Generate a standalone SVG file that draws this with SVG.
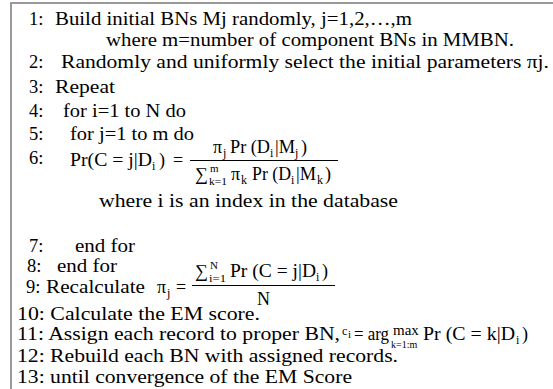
<svg xmlns="http://www.w3.org/2000/svg" width="553" height="389" viewBox="0 0 553 389">
<style>
.t{font-family:"Liberation Serif","Times New Roman",serif;font-size:18.5px;fill:#000}
.b{font-family:"Liberation Serif","Times New Roman",serif;font-size:19px;fill:#000}
.m{font-family:"Liberation Serif","Times New Roman",serif;font-size:18px;fill:#000}
.s{font-family:"Liberation Serif","Times New Roman",serif;font-size:12px;fill:#000}
.ss{font-family:"Liberation Serif","Times New Roman",serif;font-size:11px;fill:#000}
.bar{stroke:#000;stroke-width:1}
</style>
<rect width="553" height="389" fill="#fff"/>
<path d="M11,389V3H553" fill="none" stroke="#999" stroke-width="2"/>
<g id="line1">
<text class="t" x="29" y="25">1:</text>
<text class="t" x="55" y="25" textLength="357" lengthAdjust="spacingAndGlyphs">Build initial BNs Mj randomly, j=1,2,…,m</text>
<text class="t" x="106" y="46" textLength="408" lengthAdjust="spacingAndGlyphs">where m=number of component BNs in MMBN.</text>
</g>
<g id="line2">
<text class="t" x="29" y="68">2:</text>
<text class="t" x="61" y="68" textLength="488" lengthAdjust="spacingAndGlyphs">Randomly and uniformly select the initial parameters πj.</text>
</g>
<g id="line3">
<text class="t" x="29" y="93">3:</text>
<text class="t" x="55" y="93" textLength="60" lengthAdjust="spacingAndGlyphs">Repeat</text>
</g>
<g id="line4">
<text class="t" x="29" y="117">4:</text>
<text class="t" x="63" y="117" textLength="123" lengthAdjust="spacingAndGlyphs">for i=1 to N do</text>
</g>
<g id="line5">
<text class="t" x="29" y="140">5:</text>
<text class="t" x="70" y="140" textLength="124" lengthAdjust="spacingAndGlyphs">for j=1 to m do</text>
</g>
<g id="line6">
<text class="t" x="29" y="164">6:</text>
<text class="m" x="70" y="166" textLength="82" lengthAdjust="spacingAndGlyphs">Pr(C = j|D</text>
<text class="s" x="152" y="170">i</text>
<text class="m" x="159" y="166">)</text>
<text class="m" x="173" y="166">=</text>
<text class="m" x="213" y="153">π</text>
<text class="s" x="223" y="157">j</text>
<text class="m" x="230" y="153" textLength="40" lengthAdjust="spacingAndGlyphs">Pr (D</text>
<text class="s" x="270" y="157">i</text>
<text class="m" x="275" y="153" textLength="20" lengthAdjust="spacingAndGlyphs">|M</text>
<text class="s" x="295" y="157">j</text>
<text class="m" x="301" y="153">)</text>
<line class="bar" x1="190" y1="160.5" x2="338" y2="160.5"/>
<text class="m" x="195" y="180">∑</text>
<text class="ss" x="210" y="172">m</text>
<text class="ss" x="209" y="185" textLength="18" lengthAdjust="spacingAndGlyphs">k=1</text>
<text class="m" x="231" y="180">π</text>
<text class="s" x="241" y="184">k</text>
<text class="m" x="252" y="180" textLength="39" lengthAdjust="spacingAndGlyphs">Pr (D</text>
<text class="s" x="291" y="184">i</text>
<text class="m" x="296" y="180" textLength="20" lengthAdjust="spacingAndGlyphs">|M</text>
<text class="s" x="317" y="184">k</text>
<text class="m" x="325" y="180">)</text>
<text class="t" x="99" y="207" textLength="299" lengthAdjust="spacingAndGlyphs">where i is an index in the database</text>
</g>
<g id="line7">
<text class="t" x="29" y="252">7:</text>
<text class="t" x="75" y="252" textLength="60" lengthAdjust="spacingAndGlyphs">end for</text>
</g>
<g id="line8">
<text class="t" x="27" y="272">8:</text>
<text class="t" x="57" y="272" textLength="60" lengthAdjust="spacingAndGlyphs">end for</text>
</g>
<g id="line9">
<text class="t" x="26" y="293">9:</text>
<text class="t" x="46" y="293" textLength="99" lengthAdjust="spacingAndGlyphs">Recalculate</text>
<text class="m" x="157" y="293">π</text>
<text class="s" x="167" y="297">j</text>
<text class="m" x="176" y="293">=</text>
<line class="bar" x1="192" y1="285.5" x2="335" y2="285.5"/>
<text class="m" x="195" y="277">∑</text>
<text class="ss" x="210" y="269">N</text>
<text class="ss" x="209" y="282" textLength="17" lengthAdjust="spacingAndGlyphs">i=1</text>
<text class="m" x="230" y="277" textLength="86" lengthAdjust="spacingAndGlyphs">Pr (C = j|D</text>
<text class="s" x="316" y="281">i</text>
<text class="m" x="322" y="277">)</text>
<text class="m" x="257" y="305">N</text>
</g>
<g id="line10">
<text class="b" x="17" y="320" textLength="243" lengthAdjust="spacingAndGlyphs">10: Calculate the EM score.</text>
</g>
<g id="line11">
<text class="b" x="17" y="340" textLength="323" lengthAdjust="spacingAndGlyphs">11: Assign each record to proper BN,</text>
<text class="s" x="342" y="335">c</text>
<text class="ss" x="348" y="338">i</text>
<text class="m" x="354" y="340" textLength="35" lengthAdjust="spacingAndGlyphs">= arg</text>
<text font-family="Liberation Serif, Times New Roman, serif" font-size="15" x="393" y="335">max</text>
<text font-family="Liberation Serif, Times New Roman, serif" font-size="10" x="391" y="348">k=1:m</text>
<text class="m" x="423" y="340" textLength="92" lengthAdjust="spacingAndGlyphs">Pr (C = k|D</text>
<text class="s" x="516" y="344">i</text>
<text class="m" x="522" y="340">)</text>
</g>
<g id="line12">
<text class="b" x="17" y="362" textLength="381" lengthAdjust="spacingAndGlyphs">12: Rebuild each BN with assigned records.</text>
</g>
<g id="line13">
<text class="b" x="17" y="383" textLength="335" lengthAdjust="spacingAndGlyphs">13: until convergence of the EM Score</text>
</g>
</svg>
